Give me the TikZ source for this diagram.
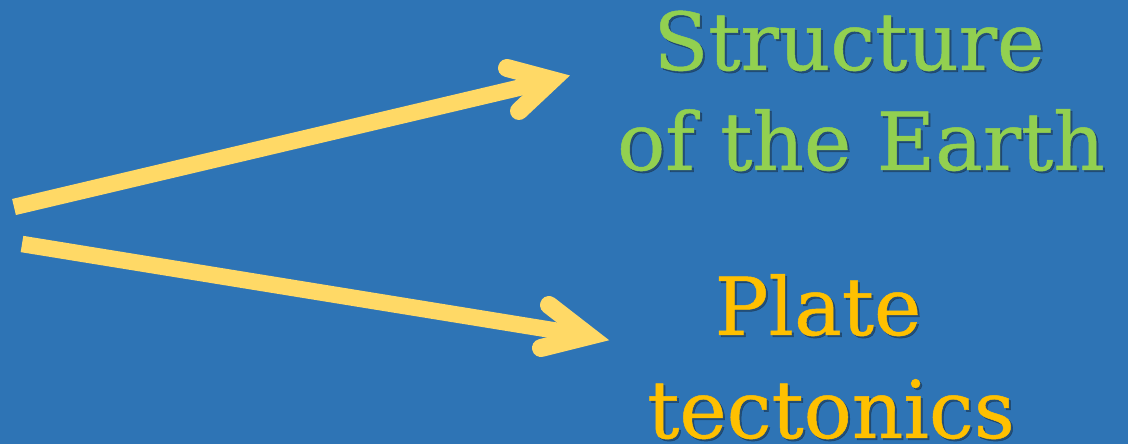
\documentclass[tikz,border=0pt]{standalone}
\usepackage{fontspec}
\setmainfont[FakeBold=0.6,AutoFakeBold=0.6]{DejaVu Serif}
\usetikzlibrary{calc}
\definecolor{bgblue}{HTML}{2E74B5}
\definecolor{arrowyellow}{HTML}{FFD966}
\definecolor{titlegreen}{HTML}{92D050}
\definecolor{titleorange}{HTML}{FFC000}
\definecolor{shadowcol}{HTML}{1A3550}
\tikzset{
  x=1pt, y=1pt,
  shaft/.style={draw=arrowyellow, line width=16.5pt, line cap=butt},
  head/.style={draw=arrowyellow, line width=18pt, line cap=round, line join=miter, miter limit=10},
  lbl/.style={inner sep=0pt, anchor=base, font=\fontsize{80}{96}\selectfont\bfseries},
  greenlbl/.style={lbl, text=titlegreen},
  orangelbl/.style={lbl, text=titleorange},
  shadowlbl/.style={lbl, text=shadowcol, opacity=0.6},
}
\begin{document}
\begin{tikzpicture}
\fill[bgblue] (0,0) rectangle (1128,444);
\useasboundingbox (0,0) rectangle (1128,444);
% arrow coordinates (y measured upward)
\coordinate (s1) at (14,237);
\coordinate (t1) at (552,364);
\coordinate (b1a) at (507,376);
\coordinate (b1b) at (519,333);
\coordinate (s2) at (22,200);
\coordinate (t2) at (589,108);
\coordinate (b2a) at (549,139);
\coordinate (b2b) at (541,96);
\draw[shaft] (s1) -- ($(s1)!0.97!(t1)$);
\draw[head] (b1a) -- (t1) -- (b1b);
\draw[shaft] (s2) -- ($(s2)!0.97!(t2)$);
\draw[head] (b2a) -- (t2) -- (b2b);
% labels
\node[shadowlbl] at (851,372) {Structure};
\node[greenlbl] (l1) at (849,374) {Structure};
\node[shadowlbl] at (863,272) {of the Earth};
\node[greenlbl] (l2) at (861,274) {of the Earth};
\node[shadowlbl] at (820,107) {Plate};
\node[orangelbl] (l3) at (818,109) {Plate};
\node[shadowlbl] at (833,4) {tectonics};
\node[orangelbl] (l4) at (831,6) {tectonics};
\end{tikzpicture}
\end{document}
